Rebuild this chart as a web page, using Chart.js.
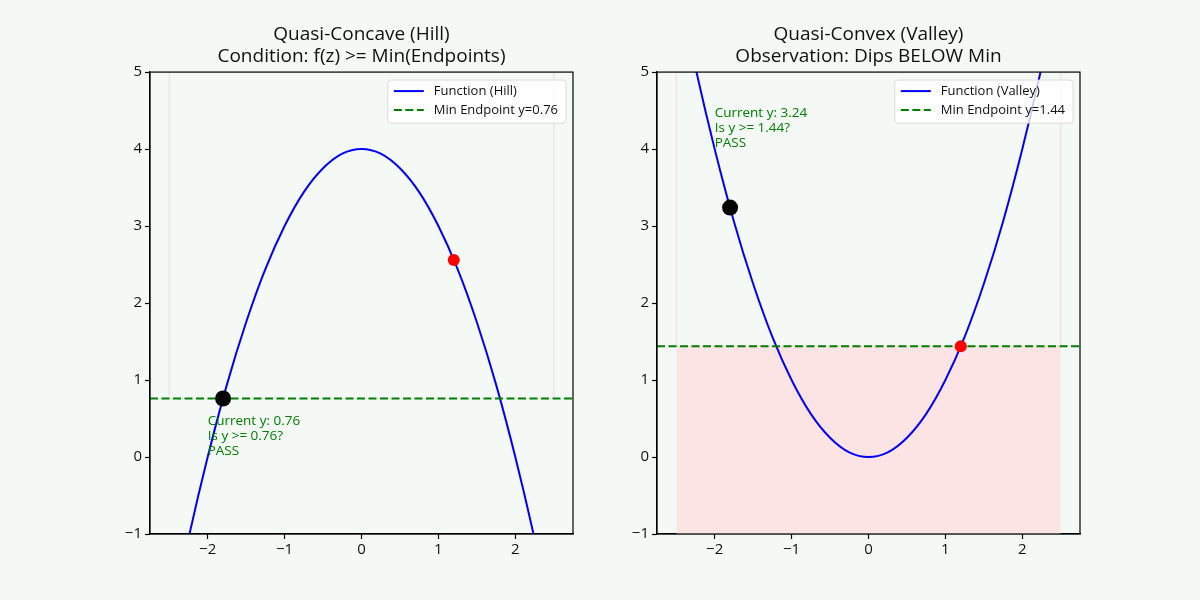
<!DOCTYPE html>
<html>
<head>
<meta charset="utf-8">
<title>Quasi-Concave vs Quasi-Convex</title>
<script src="https://cdn.jsdelivr.net/npm/chart.js@4.4.1/dist/chart.umd.min.js"></script>
<style>
	body { margin: 0; background: #f5f9f6; }
	.panel { position: absolute; top: 0; width: 600px; height: 600px; }
</style>
</head>
<body>
<div class="panel" style="left:0"><canvas id="hillChart"></canvas></div>
<div class="panel" style="left:600px"><canvas id="valleyChart"></canvas></div>
<script>
// points
var xs      = [-2.5, -2.25, -2, -1.75, -1.5, -1.25, -1, -0.75, -0.5, -0.25, 0, 0.25, 0.5, 0.75, 1, 1.25, 1.5, 1.75, 2, 2.25, 2.5];
var hillY   = [-2.25, -1.06, 0, 0.94, 1.75, 2.44, 3, 3.44, 3.75, 3.94, 4, 3.94, 3.75, 3.44, 3, 2.44, 1.75, 0.94, 0, -1.06, -2.25];
var valleyY = [6.25, 5.06, 4, 3.06, 2.25, 1.56, 1, 0.56, 0.25, 0.06, 0, 0.06, 0.25, 0.56, 1, 1.56, 2.25, 3.06, 4, 5.06, 6.25];

var xTicks = [-2, -1, 0, 1, 2];
var yTicks = [-1, 0, 1, 2, 3, 4, 5];
var xRange = [-2.75, 2.75];
var yRange = [-1, 5];
var intervalX = [-2.5, 2.5];

var hillMin = 0.76;
var hillCurrent = [-1.8, 0.76];
var hillEnd = [1.2, 2.56];
var hillNote = ['Current y: 0.76', 'Is y >= 0.76?', 'PASS'];
var hillNoteAt = [-2.0, 0.55];

var valleyMin = 1.44;
var valleyCurrent = [-1.8, 3.24];
var valleyEnd = [1.2, 1.44];
var valleyNote = ['Current y: 3.24', 'Is y >= 1.44?', 'PASS'];
var valleyNoteAt = [-2.0, 4.55];

var FONT = '"Open Sans", "DejaVu Sans", sans-serif';
Chart.defaults.font.family = FONT;

function fmt(v) {
	return v < 0 ? '\u2212' + Math.abs(v) : String(v);
}

// frame, legend box and the green note
var decor = {
	id: 'decor',
	afterDatasetsDraw: function (chart) {
		var ctx = chart.ctx, a = chart.chartArea, o = chart.options.plugins.decor;
		var sx = chart.scales.x, sy = chart.scales.y;
		ctx.save();
		// note
		ctx.fillStyle = '#008000';
		ctx.font = '13.5px ' + FONT;
		ctx.textBaseline = 'top';
		ctx.textAlign = 'left';
		var nx = sx.getPixelForValue(o.noteAt[0]), ny = sy.getPixelForValue(o.noteAt[1]);
		for (var i = 0; i < o.note.length; i++) {
			ctx.fillText(o.note[i], nx, ny + i * 15);
		}
		// legend
		var items = chart.data.datasets.filter(function (d) { return d.inLegend; });
		ctx.font = '13px ' + FONT;
		var tw = 0;
		items.forEach(function (d) { tw = Math.max(tw, ctx.measureText(d.label).width); });
		var bw = 6 + 30 + 10 + tw + 8, bh = 43;
		var bx = a.right - 7 - bw, by = a.top + 8;
		ctx.beginPath();
		ctx.roundRect(bx, by, bw, bh, 3);
		ctx.fillStyle = 'rgba(255,255,255,0.8)';
		ctx.fill();
		ctx.strokeStyle = '#dcdcdc';
		ctx.lineWidth = 1;
		ctx.stroke();
		items.forEach(function (d, i) {
			var ly = by + 11 + i * 19;
			ctx.beginPath();
			ctx.setLineDash(d.borderDash || []);
			ctx.strokeStyle = d.borderColor;
			ctx.lineWidth = 2;
			ctx.moveTo(bx + 6, ly);
			ctx.lineTo(bx + 36, ly);
			ctx.stroke();
			ctx.setLineDash([]);
			ctx.fillStyle = '#111';
			ctx.textBaseline = 'middle';
			ctx.fillText(d.label, bx + 46, ly);
		});
		// frame
		ctx.strokeStyle = '#000';
		ctx.lineWidth = 1.2;
		ctx.strokeRect(a.left, a.top, a.right - a.left, a.bottom - a.top);
		ctx.restore();
	}
};

function pts(xv, yv) {
	var out = [];
	for (var i = 0; i < xv.length; i++) out.push({ x: xv[i], y: yv[i] });
	return out;
}

function makePanel(id, p) {
	var faint = 'rgba(225,200,200,0.3)';
	var datasets = [
		{ label: p.curveLabel, inLegend: true, data: pts(xs, p.curve), borderColor: '#0000ff', borderWidth: 2,
			pointRadius: 0, cubicInterpolationMode: 'monotone', order: 3 },
		{ label: 'Min Endpoint y=' + p.min, inLegend: true, data: pts(xRange, [p.min, p.min]), borderColor: '#008000',
			borderWidth: 2, borderDash: [8, 3.5], pointRadius: 0, order: 2 },
		{ label: 'current', data: [{ x: p.current[0], y: p.current[1] }], showLine: false, pointRadius: 8,
			backgroundColor: '#000', borderColor: '#000', borderWidth: 0, order: 1 },
		{ label: 'endpoint', data: [{ x: p.end[0], y: p.end[1] }], showLine: false, pointRadius: 6,
			backgroundColor: '#ff0000', borderColor: '#ff0000', borderWidth: 0, order: 0 },
		{ label: 'edgeL', data: pts([intervalX[0], intervalX[0]], [p.min, yRange[1]]), borderColor: faint,
			borderWidth: 2, pointRadius: 0, order: 6 },
		{ label: 'edgeR', data: pts([intervalX[1], intervalX[1]], [p.min, yRange[1]]), borderColor: faint,
			borderWidth: 2, pointRadius: 0, order: 6 }
	];
	if (p.shade) {
		datasets.push({ label: 'below', data: pts(intervalX, [p.min, p.min]), fill: 'start', backgroundColor: '#fde4e4',
			borderColor: '#f8d8d8', borderWidth: 1, pointRadius: 0, order: 7 });
	}
	return new Chart(document.getElementById(id), {
		type: 'line',
		data: { datasets: datasets },
		plugins: [decor],
		options: {
			responsive: true,
			maintainAspectRatio: false,
			animation: false,
			layout: { padding: { left: 0, right: p.padRight, top: 0, bottom: 0 } },
			plugins: {
				legend: { display: false },
				tooltip: { enabled: false },
				title: {
					display: true, text: p.title, color: '#111', fullSize: false,
					font: { size: 19, weight: 'normal', lineHeight: 1.16 },
					padding: { top: 24, bottom: 4 }
				},
				decor: { note: p.note, noteAt: p.noteAt }
			},
			scales: {
				x: {
					type: 'linear', min: xRange[0], max: xRange[1],
					afterBuildTicks: function (s) { s.ticks = xTicks.map(function (v) { return { value: v }; }); },
					afterFit: function (s) { s.height = 66; },
					ticks: { callback: fmt, color: '#111', font: { size: 15 }, padding: 2, maxRotation: 0 },
					grid: { drawOnChartArea: false, tickLength: 5, tickColor: '#000', tickWidth: 1.2 },
					border: { color: '#000', width: 1.2 }
				},
				y: {
					type: 'linear', min: yRange[0], max: yRange[1],
					afterBuildTicks: function (s) { s.ticks = yTicks.map(function (v) { return { value: v }; }); },
					afterFit: function (s) { s.width = p.yWidth; },
					ticks: { callback: fmt, color: '#111', font: { size: 15 }, padding: 3 },
					grid: { drawOnChartArea: false, tickLength: 5, tickColor: '#000', tickWidth: 1.2 },
					border: { color: '#000', width: 1.2 }
				}
			}
		}
	});
}

makePanel('hillChart', {
	title: ['Quasi-Concave (Hill)', 'Condition: f(z) >= Min(Endpoints)'],
	curveLabel: 'Function (Hill)', curve: hillY, min: hillMin,
	current: hillCurrent, end: hillEnd, note: hillNote, noteAt: hillNoteAt,
	shade: false, yWidth: 150, padRight: 27
});
makePanel('valleyChart', {
	title: ['Quasi-Convex (Valley)', 'Observation: Dips BELOW Min'],
	curveLabel: 'Function (Valley)', curve: valleyY, min: valleyMin,
	current: valleyCurrent, end: valleyEnd, note: valleyNote, noteAt: valleyNoteAt,
	shade: true, yWidth: 57, padRight: 120
});
</script>
</body>
</html>
